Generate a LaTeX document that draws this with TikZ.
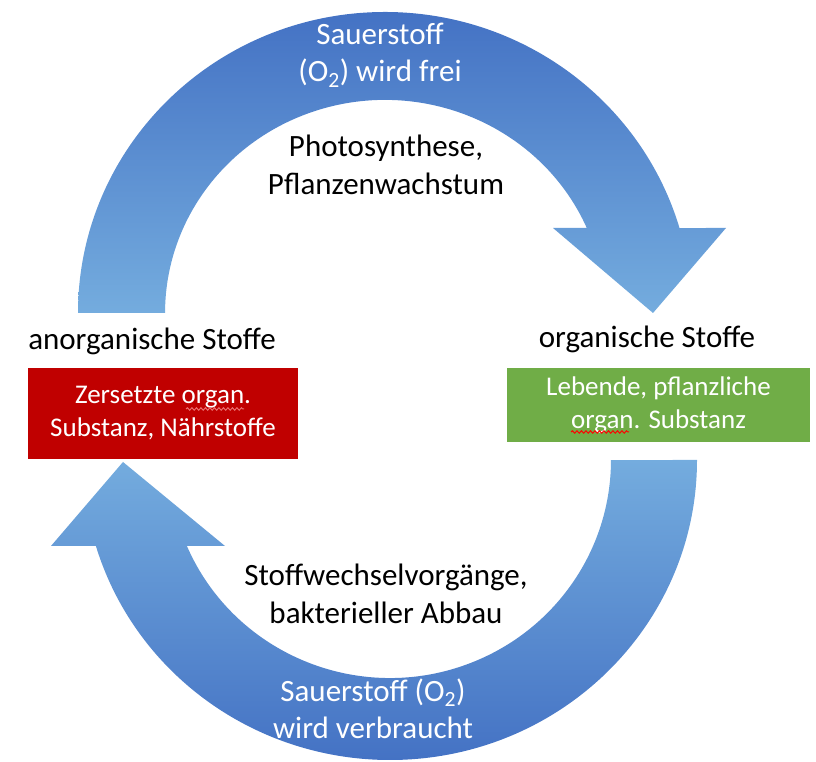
\documentclass[tikz,border=0pt]{standalone}
\usepackage{fontspec}
\setmainfont{Carlito}
\usetikzlibrary{decorations.pathmorphing}
\definecolor{bdark}{RGB}{68,114,196}
\definecolor{blight}{RGB}{116,172,222}
\definecolor{boxred}{RGB}{192,0,0}
\definecolor{boxgreen}{RGB}{112,173,71}
\definecolor{wavered}{RGB}{236,112,112}
\begin{document}
\begin{tikzpicture}[x=1pt,y=1pt,
  lbl/.style={align=center,font=\fontsize{31}{37.5}\selectfont,inner sep=0pt},
  wlbl/.style={lbl,text=white},
  boxlbl/.style={align=center,font=\fontsize{27}{33}\selectfont,inner sep=0pt,text=white},
  squig/.style={line width=1pt,decorate,decoration={snake,amplitude=1.2pt,segment length=4.5pt}}]
\useasboundingbox (0,0) rectangle (816,762);
% top arrow
\shade[top color=bdark,bottom color=blight]
  (78,449) arc[start angle=180,end angle=16.4,x radius=307,y radius=301]
  -- (726,534) -- (653,449) -- (553,534) -- (586.8,534)
  arc[start angle=23.5,end angle=180,x radius=220,y radius=213] -- cycle;
% bottom arrow
\shade[top color=blight,bottom color=bdark]
  (697,302) arc[start angle=0,end angle=-163.34,x radius=307,y radius=300]
  -- (51,216) -- (123,300) -- (225,216) -- (186.9,216)
  arc[start angle=-156.77,end angle=0,x radius=221,y radius=218] -- cycle;
% labels
\node[wlbl] (o2top) at (380,707) {Sauerstoff\\(O\textsubscript{2}) wird frei};
\node[lbl] (photo) at (386,597) {Photosynthese,\\Pflanzenwachstum};
\node[lbl] (anorg) at (152,421) {anorganische Stoffe};
\node[lbl] (org) at (647,423) {organische Stoffe};
\node[boxlbl,fill=boxred,minimum width=270pt,minimum height=91pt] (red) at (163,348.5)
  {Zersetzte organ.\\Substanz, Nährstoffe};
\node[boxlbl,fill=boxgreen,minimum width=303pt,minimum height=74pt] (green) at (658.5,357)
  {Lebende, pflanzliche\\organ. Substanz};
\node[lbl] (stoff) at (386,168) {Stoffwechselvorgänge,\\bakterieller Abbau};
\node[wlbl] (o2bot) at (373,53) {Sauerstoff (O\textsubscript{2})\\wird verbraucht};
% spell-check squiggles
\draw[squig,wavered] (186,353) -- (244,353);
\draw[squig,red] (571,330) -- (629,330);
\end{tikzpicture}
\end{document}
